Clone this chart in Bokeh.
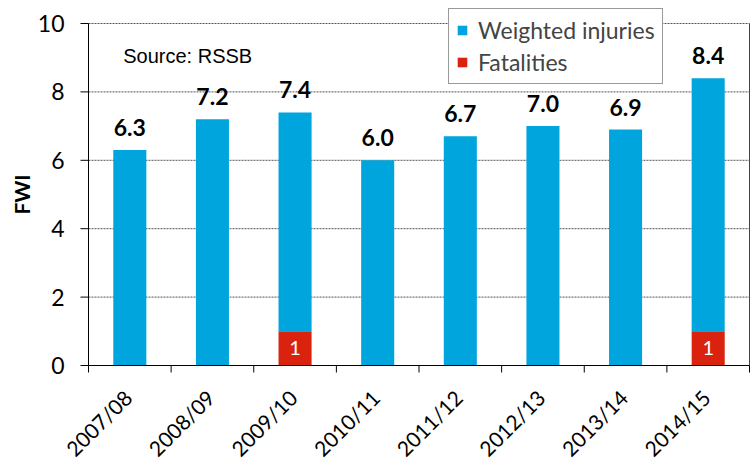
from bokeh.plotting import figure
from bokeh.models import (ColumnDataSource, Range1d, Legend, LegendItem, LabelSet, Label)
from bokeh.core.properties import value
from bokeh.embed import file_html
from bokeh.resources import INLINE
from math import pi

years = ["2007/08", "2008/09", "2009/10", "2010/11", "2011/12", "2012/13", "2013/14", "2014/15"]
total_fwi = [6.3, 7.2, 7.4, 6.0, 6.7, 7.0, 6.9, 8.4]
fatalities = [0, 0, 1, 0, 0, 0, 0, 1]
weighted_injuries = [round(t - f, 2) for t, f in zip(total_fwi, fatalities)]
y_ticks = [0, 2, 4, 6, 8, 10]
y_max = 10

BLUE = "#00A5DD"
RED = "#D9230F"
FONT = "Lato"

# layout (pixels); the whole canvas is the plotting frame
W, H = 755, 461
LEFT = 88                    # pixel column of x = 0 (y axis)
AX_Y = 365                   # pixel row of y = 0
TOP_Y = 23                   # pixel row of y = y_max
RIGHT_DATA = 749             # pixel column of the right edge of the plot area
n = len(years)
px_x = (RIGHT_DATA - LEFT) / n
px_y = (AX_Y - TOP_Y) / y_max
x_start = -LEFT / px_x
x_end = n + (W - RIGHT_DATA) / px_x
y_start = -(H - AX_Y) / px_y
y_end = y_max + TOP_Y / px_y

xc = [i + 0.5 for i in range(n)]
src = ColumnDataSource(dict(
    x=xc, years=years, zero=[0] * n, fatalities=fatalities,
    weighted_injuries=weighted_injuries,
    total=total_fwi, total_lbl=[f"{v:.1f}" for v in total_fwi],
))
fat_src = ColumnDataSource(dict(
    x=[x for x, f in zip(xc, fatalities) if f > 0],
    y=[f / 2 for f in fatalities if f > 0],
    lbl=[str(f) for f in fatalities if f > 0],
))
ytick_src = ColumnDataSource(dict(y=y_ticks, x=[0] * len(y_ticks),
                                  lbl=[str(t) for t in y_ticks]))

p = figure(width=W, height=H, output_backend="svg", toolbar_location=None,
           x_range=Range1d(x_start, x_end), y_range=Range1d(y_start, y_end),
           x_axis_location=None, y_axis_location=None,
           min_border_left=0, min_border_right=0, min_border_top=0, min_border_bottom=0)
p.outline_line_color = None
p.grid.visible = False

# gridlines
grid_y = y_ticks[1:]
p.segment(x0=[0] * len(grid_y), y0=grid_y, x1=[n] * len(grid_y), y1=grid_y,
          line_color="#555555", line_width=1, line_dash="2 1")

r = p.vbar_stack(["fatalities", "weighted_injuries"], x="x", width=0.4, source=src,
                 color=[RED, BLUE], line_color=None)

# axis lines, ticks and right border
p.segment(x0=[0], y0=[0], x1=[n], y1=[0], line_color="black", line_width=1)
p.segment(x0=[0], y0=[0], x1=[0], y1=[y_max], line_color="black", line_width=1)
p.segment(x0=[n], y0=[0], x1=[n], y1=[y_max], line_color="#444444", line_width=1)
bounds = list(range(n + 1))
p.segment(x0=bounds, y0=[0] * (n + 1), x1=bounds, y1=[-7 / px_y] * (n + 1),
          line_color="black", line_width=1)
p.segment(x0=[0] * len(y_ticks), y0=y_ticks, x1=[-8 / px_x] * len(y_ticks), y1=y_ticks,
          line_color="black", line_width=1)

# y tick labels and axis title
p.add_layout(LabelSet(x="x", y="y", text="lbl", source=ytick_src, text_align="right",
                      text_baseline="middle", x_offset=-24, text_font=value(FONT),
                      text_font_size="23px", text_color="black"))
p.add_layout(Label(x=0, y=y_max / 2, x_offset=-67, text="FWI", angle=pi / 2,
                   text_align="center", text_baseline="middle", text_font=FONT,
                   text_font_style="bold", text_font_size="21px", text_color="black"))

# value labels
p.add_layout(LabelSet(x="x", y="total", text="total_lbl", source=src, text_align="center",
                      text_baseline="alphabetic", y_offset=14, text_font=value(FONT),
                      text_font_style="bold", text_font_size="23px", text_color="black"))
p.add_layout(LabelSet(x="x", y="y", text="lbl", source=fat_src, text_align="center",
                      text_baseline="middle", text_font=value(FONT), text_font_size="20px",
                      text_color="white"))

# category labels (rotated)
p.add_layout(LabelSet(x="x", y="zero", text="years", source=src, text_align="right",
                      text_baseline="middle", angle=pi / 4, x_offset=-2, y_offset=-28,
                      text_font=value(FONT), text_font_size="21px", text_color="black"))

p.add_layout(Label(x=0.42, y=9.05, text="Source: RSSB", text_font="Liberation Sans",
                   text_font_size="20px", text_baseline="alphabetic", text_color="black"))

legend = Legend(items=[LegendItem(label="Weighted injuries", renderers=[r[1]]),
                       LegendItem(label="Fatalities", renderers=[r[0]])],
                location=(448, H - 84), orientation="vertical",
                label_text_font=FONT, label_text_font_size="23px",
                glyph_width=12, glyph_height=12, label_standoff=10,
                spacing=4, padding=7, margin=0,
                border_line_color="#333333", border_line_width=1,
                background_fill_color="white", background_fill_alpha=1)
p.add_layout(legend, "center")

open("out.html", "w").write(file_html(p, INLINE))
